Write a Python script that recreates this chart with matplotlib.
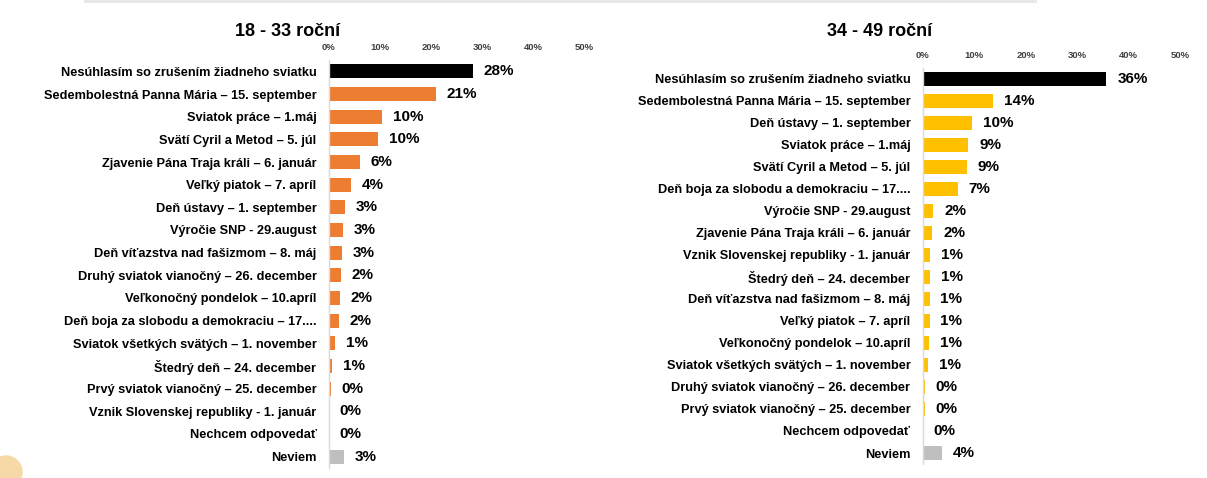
import matplotlib
matplotlib.use("Agg")
import matplotlib.pyplot as plt
from matplotlib.ticker import FuncFormatter
from matplotlib.patches import Circle

plt.rcParams['font.family'] = ['Liberation Sans', 'DejaVu Sans']
plt.rcParams['font.weight'] = 'bold'

# 18 - 33 roční
left_title = "18 - 33 roční"
left_labels = [
    "Nesúhlasím so zrušením žiadneho sviatku",
    "Sedembolestná Panna Mária – 15. september",
    "Sviatok práce – 1.máj",
    "Svätí Cyril a Metod – 5. júl",
    "Zjavenie Pána Traja králi – 6. január",
    "Veľký piatok – 7. apríl",
    "Deň ústavy – 1. september",
    "Výročie SNP - 29.august",
    "Deň víťazstva nad fašizmom – 8. máj",
    "Druhý sviatok vianočný – 26. december",
    "Veľkonočný pondelok – 10.apríl",
    "Deň boja za slobodu a demokraciu – 17....",
    "Sviatok všetkých svätých – 1. november",
    "Štedrý deň – 24. december",
    "Prvý sviatok vianočný – 25. december",
    "Vznik Slovenskej republiky - 1. január",
    "Nechcem odpovedať",
    "Neviem",
]
left_values = [28.2, 21.0, 10.4, 9.7, 6.1, 4.3, 3.1, 2.7, 2.6, 2.4, 2.1, 1.9, 1.2, 0.6, 0.3, 0.0, 0.0, 3.0]

# 34 - 49 roční
right_title = "34 - 49 roční"
right_labels = [
    "Nesúhlasím so zrušením žiadneho sviatku",
    "Sedembolestná Panna Mária – 15. september",
    "Deň ústavy – 1. september",
    "Sviatok práce – 1.máj",
    "Svätí Cyril a Metod – 5. júl",
    "Deň boja za slobodu a demokraciu – 17....",
    "Výročie SNP - 29.august",
    "Zjavenie Pána Traja králi – 6. január",
    "Vznik Slovenskej republiky - 1. január",
    "Štedrý deň – 24. december",
    "Deň víťazstva nad fašizmom – 8. máj",
    "Veľký piatok – 7. apríl",
    "Veľkonočný pondelok – 10.apríl",
    "Sviatok všetkých svätých – 1. november",
    "Druhý sviatok vianočný – 26. december",
    "Prvý sviatok vianočný – 25. december",
    "Nechcem odpovedať",
    "Neviem",
]
right_values = [35.7, 13.6, 9.6, 8.8, 8.6, 6.8, 2.0, 1.8, 1.4, 1.4, 1.3, 1.3, 1.2, 1.0, 0.4, 0.3, 0.0, 3.6]

ticks = [0, 10, 20, 30, 40, 50]


def draw_panel(ax, title, labels, values, main_color, title_x):
    n = len(values)
    colors = ['black'] + [main_color] * (n - 2) + ['#bfbfbf']
    y = list(range(n))
    ax.barh(y, values, height=0.62, color=colors)
    for yi, v in zip(y, values):
        ax.text(v + 2.1, yi, f"{v:.0f}%", va='center', ha='left', fontsize=11, fontweight='bold')
    ax.set_ylim(n - 0.5, -0.5)
    ax.set_xlim(0, 50)
    ax.set_yticks(y)
    ax.set_yticklabels(labels, fontsize=9.2, fontweight='bold')
    ax.set_xticks(ticks)
    ax.xaxis.set_major_formatter(FuncFormatter(lambda x, p: f"{x:.0f}%"))
    ax.xaxis.tick_top()
    ax.tick_params(axis='x', length=0, labelsize=6.8, colors='#404040', pad=6)
    ax.tick_params(axis='y', length=0, pad=9)
    for s in ['top', 'right', 'bottom']:
        ax.spines[s].set_visible(False)
    ax.spines['left'].set_color('#d9d9d9')
    ax.spines['left'].set_linewidth(1)
    fig.text(title_x, 1 - 31 / 478, title, ha='center', va='center', fontsize=13, fontweight='bold')


fig = plt.figure(figsize=(12.07, 4.78), dpi=100)
ax1 = fig.add_axes([329 / 1207, 10 / 478, 255 / 1207, 408 / 478])
ax2 = fig.add_axes([923 / 1207, 14 / 478, 257 / 1207, 396 / 478])

draw_panel(ax1, left_title, left_labels, left_values, '#ed7d31', 288 / 1207)
draw_panel(ax2, right_title, right_labels, right_values, '#ffc000', 880 / 1207)

# slabá linka hore a logo v rohu
fig.add_artist(plt.Line2D([85 / 1207, 1035 / 1207], [0.997, 0.997], color='#e6e6e6', lw=2))
fig.add_artist(Circle((6, 6), 16, transform=None, color='#f6d9a6', zorder=0))

fig.savefig("out.png", dpi=100)
